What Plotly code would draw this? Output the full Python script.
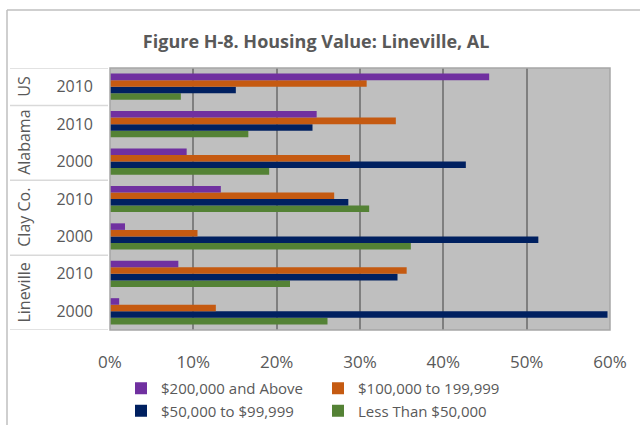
import plotly.graph_objects as go

# Categories (bottom to top)
groups = ["Lineville", "Lineville", "Clay Co.", "Clay Co.", "Alabama", "Alabama", "US"]
years = ["2000", "2010", "2000", "2010", "2000", "2010", "2010"]
cat_ids = [g + " " + y for g, y in zip(groups, years)]

# Series values (fraction), same order as categories
above_200k = [0.011, 0.082, 0.018, 0.133, 0.092, 0.248, 0.455]
k100_199 = [0.127, 0.356, 0.105, 0.269, 0.288, 0.343, 0.308]
k50_99 = [0.597, 0.345, 0.514, 0.286, 0.427, 0.243, 0.151]
less_50k = [0.261, 0.216, 0.361, 0.311, 0.191, 0.166, 0.085]

tick_vals = [0, 0.1, 0.2, 0.3, 0.4, 0.5, 0.6]
tick_text = ["0%", "10%", "20%", "30%", "40%", "50%", "60%"]

FONT = "Open Sans"
GRAY = "#595959"

fig = go.Figure()
series = [
    ("Less Than $50,000", less_50k, "#548235"),
    ("$50,000 to $99,999", k50_99, "#002060"),
    ("$100,000 to 199,999", k100_199, "#C55A11"),
    ("$200,000 and Above", above_200k, "#7030A0"),
]
for name, vals, col in series:
    fig.add_trace(go.Bar(
        y=cat_ids, x=vals, name=name, orientation="h",
        marker=dict(color=col, line=dict(width=0)),
    ))

fig.update_layout(
    width=640, height=425,
    margin=dict(l=110, r=30, t=68, b=95, autoexpand=False),
    barmode="group", bargap=0.3, bargroupgap=0.0,
    plot_bgcolor="#BFBFBF", paper_bgcolor="white",
    font=dict(family=FONT, color=GRAY),
    title=dict(text="<b>Figure H-8. Housing Value: Lineville, AL</b>",
               x=0.494, xanchor="center", y=1 - 42 / 425, yanchor="middle",
               font=dict(size=18, color=GRAY, family=FONT), automargin=False),
    xaxis=dict(range=[0, 0.6], tickvals=tick_vals, ticktext=tick_text,
               showgrid=True, gridcolor="#7F7F7F", gridwidth=1.5,
               zeroline=False, showline=False, ticks="", automargin=False,
               tickfont=dict(size=17, color=GRAY), ticklabelstandoff=20),
    yaxis=dict(type="category", categoryarray=cat_ids, categoryorder="array",
               tickvals=cat_ids, ticktext=years, showgrid=False, ticks="",
               tickfont=dict(size=16, color=GRAY), ticklabelstandoff=16,
               range=[-0.5, 6.5], automargin=False),
    legend=dict(orientation="h", traceorder="reversed", entrywidth=152,
                x=0.022, xanchor="left", yref="container", y=1 - 372 / 425,
                yanchor="top", font=dict(size=15, color=GRAY), itemclick=False),
)

shapes = []
# plot area border
shapes.append(dict(type="rect", xref="paper", yref="paper", x0=0, x1=1, y0=0, y1=1,
                   line=dict(color="#A6A6A6", width=1.5)))
# label-area separators
for yb in [-0.5, 1.5, 3.5, 5.5, 6.5]:
    shapes.append(dict(type="line", xref="paper", yref="y", x0=-0.2, x1=-0.004,
                       y0=yb, y1=yb, line=dict(color="#D9D9D9", width=1.5)))
# chart frame (left and top)
shapes.append(dict(type="line", xref="paper", yref="paper", x0=-0.206, x1=-0.206,
                   y0=1.2214, y1=-0.5, line=dict(color="#BFBFBF", width=1.5)))
shapes.append(dict(type="line", xref="paper", yref="paper", x0=-0.206, x1=1.1,
                   y0=1.2214, y1=1.2214, line=dict(color="#BFBFBF", width=1.5)))
fig.update_layout(shapes=shapes)

# group labels
group_labels = [("US", 6), ("Alabama", 4.5), ("Clay Co.", 2.5), ("Lineville", 0.5)]
for txt, yc in group_labels:
    fig.add_annotation(text=txt, xref="paper", yref="y", x=-0.172, y=yc,
                       textangle=-90, showarrow=False, xanchor="center", yanchor="middle",
                       font=dict(size=16, color=GRAY, family=FONT))

fig.write_html("out.html", config={"displayModeBar": False},
               post_script="document.body.style.margin='0';")
